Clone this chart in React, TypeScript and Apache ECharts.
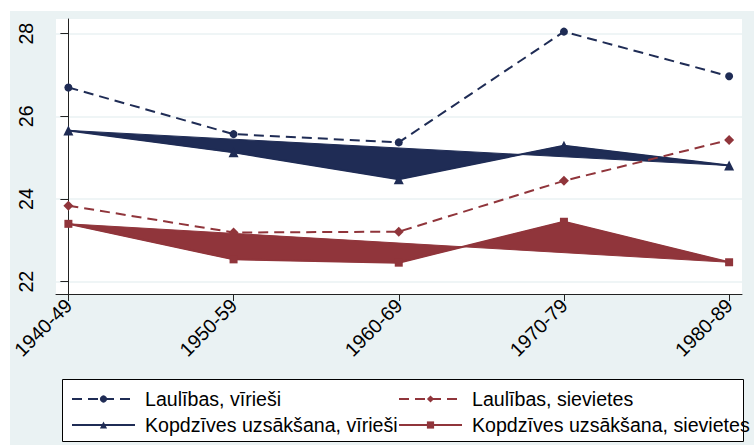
import React, { useEffect, useRef } from "react";
import * as echarts from "echarts";

const categories = ["1940-49", "1950-59", "1960-69", "1970-79", "1980-89"];
const marriageMen = [26.7, 25.57, 25.37, 28.05, 26.97];
const marriageWomen = [23.84, 23.19, 23.21, 24.44, 25.43];
const cohabMen = [25.66, 25.13, 24.48, 25.29, 24.81];
const cohabWomen = [23.4, 22.54, 22.46, 23.45, 22.47];
const yTicks = [22, 24, 26, 28];
const xTicks = [0, 1, 2, 3, 4];

const names = [
  "Laulības, vīrieši",
  "Laulības, sievietes",
  "Kopdzīves uzsākšana, vīrieši",
  "Kopdzīves uzsākšana, sievietes",
];

const NAVY = "#1f2c55";
const MAROON = "#90353b";
const BG = "#eaf2f3";
const FONT = "'Liberation Sans', Arial, Helvetica, sans-serif";
const FS = 19.6;

const toPts = (arr: number[]) => arr.map((v, i) => [i, v]);

function polygonSeries(name: string, values: number[], color: string) {
  return {
    type: "custom",
    name,
    z: 1,
    data: toPts(values),
    encode: { x: 0, y: 1 },
    silent: true,
    renderItem: (params: any, api: any) => {
      if (params.dataIndex !== 0) return null;
      const points = values.map((v, i) => api.coord([i, v]));
      return {
        type: "polygon",
        shape: { points },
        style: { fill: color, stroke: color, lineWidth: 1 },
      };
    },
  };
}

function lineSeries(
  name: string,
  values: number[],
  color: string,
  symbol: string,
  size: number,
  dashed: boolean,
  z: number
) {
  return {
    type: "line",
    name,
    z,
    data: toPts(values),
    symbol,
    symbolSize: size,
    showSymbol: true,
    clip: false,
    itemStyle: { color },
    lineStyle: {
      color,
      width: 2,
      type: dashed ? [10, 6] : "solid",
    },
  };
}

export default function App() {
  const ref = useRef<HTMLDivElement>(null);
  useEffect(() => {
    if (!ref.current) return;
    const chart = echarts.init(ref.current, undefined, { renderer: "svg" });
    const legendCommon = {
      orient: "vertical",
      padding: 0,
      itemWidth: 63,
      itemHeight: 9,
      itemGap: 6,
      textStyle: {
        fontFamily: FONT,
        fontSize: FS,
        color: "#000",
        lineHeight: 20,
        padding: [0, 0, 0, 5],
      },
      selectedMode: false,
    };
    chart.setOption({
      animation: false,
      backgroundColor: "#ffffff",
      textStyle: { fontFamily: FONT },
      graphic: [
        {
          type: "rect",
          z: -10,
          shape: { x: 10, y: 11, width: 744, height: 434 },
          style: { fill: BG },
        },
        {
          type: "rect",
          z: 1,
          shape: { x: 62.5, y: 379.5, width: 681, height: 62 },
          style: { fill: "#ffffff", stroke: "#000", lineWidth: 1 },
        },
      ],
      grid: {
        show: true,
        backgroundColor: "#ffffff",
        borderWidth: 0,
        left: 56,
        right: 12,
        top: 19,
        bottom: 151,
      },
      legend: [
        {
          ...legendCommon,
          left: 71,
          top: 389,
          data: [names[0], names[2]],
        },
        {
          ...legendCommon,
          left: 398,
          top: 389,
          data: [names[1], names[3]],
        },
      ],
      xAxis: {
        type: "value",
        min: -0.075,
        max: 4.078,
        axisLine: { lineStyle: { color: "#222", width: 1 } },
        axisTick: {
          customValues: xTicks,
          length: 7,
          lineStyle: { color: "#222" },
        },
        splitLine: { show: false },
        axisLabel: {
          customValues: xTicks,
          rotate: 45,
          margin: 8,
          fontSize: FS,
          color: "#000",
          fontFamily: FONT,
          formatter: (v: number) => categories[Math.round(v)],
        },
      },
      yAxis: {
        type: "value",
        min: 21.702,
        max: 28.356,
        axisLine: { show: true, lineStyle: { color: "#222", width: 1 } },
        axisTick: {
          show: true,
          customValues: yTicks,
          length: 8,
          lineStyle: { color: "#222" },
        },
        splitLine: { show: true, lineStyle: { color: BG, width: 1.5 } },
        axisLabel: {
          customValues: yTicks,
          rotate: 90,
          margin: 20,
          fontSize: FS,
          color: "#000",
          fontFamily: FONT,
        },
      },
      series: [
        polygonSeries("fillMen", cohabMen, NAVY),
        polygonSeries("fillWomen", cohabWomen, MAROON),
        lineSeries(names[2], cohabMen, NAVY, "triangle", 10, false, 2),
        lineSeries(names[3], cohabWomen, MAROON, "rect", 8, false, 2),
        lineSeries(names[0], marriageMen, NAVY, "circle", 8, true, 3),
        lineSeries(names[1], marriageWomen, MAROON, "diamond", 10, true, 3),
      ],
    });
    return () => chart.dispose();
  }, []);
  return (
    <div
      ref={ref}
      style={{ position: "fixed", left: 0, top: 0, width: 754, height: 445 }}
    />
  );
}
